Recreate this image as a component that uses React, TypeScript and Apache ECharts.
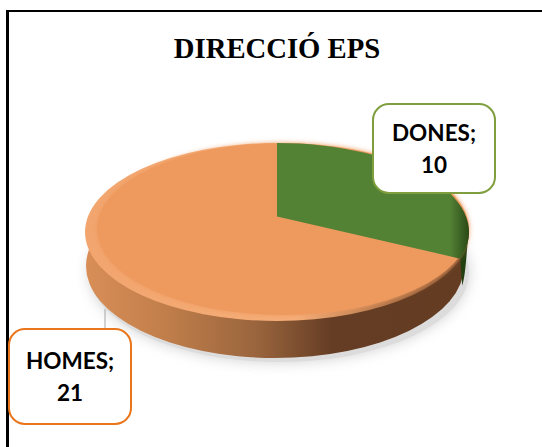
import React, { useEffect, useRef } from "react";
import * as echarts from "echarts";

const titleText = "DIRECCIÓ EPS";
const categories = ["DONES", "HOMES"];
const values = [10, 21];
const sliceColors = ["#548235", "#EE9A5E"];
const borderColors = ["#7F9F3F", "#E9761C"];

const cx = 277, cy = 232, rx = 192, ry = 89;
const apexY = 216.5;

// point of the tilted rim for a pie angle measured clockwise from 12 o'clock
function rim(theta: number): [number, number] {
  const dx = Math.sin(theta) * rx;
  const dy = -Math.cos(theta) * 90;
  const oy = apexY - cy;
  const a = (dx * dx) / (rx * rx) + (dy * dy) / (ry * ry);
  const b = (2 * oy * dy) / (ry * ry);
  const c = (oy * oy) / (ry * ry) - 1;
  const t = (-b + Math.sqrt(b * b - 4 * a * c)) / (2 * a);
  return [cx + dx * t, apexY + dy * t];
}

function wedge(start: number, end: number): string {
  const [x0, y0] = rim(start);
  const [x1, y1] = rim(end);
  const large = end - start > Math.PI ? 1 : 0;
  return `M${cx} ${apexY}L${x0} ${y0}A${rx} ${ry} 0 ${large} 1 ${x1} ${y1}Z`;
}

const ell = (x: number, y: number, a: number, b: number) =>
  `M${x - a} ${y}A${a} ${b} 0 1 0 ${x + a} ${y}A${a} ${b} 0 1 0 ${x - a} ${y}Z`;

function path(d: string, style: any) {
  return { type: "path", shape: { pathData: d }, style };
}

const hGrad = (stops: [number, string][]) => ({
  type: "linear", x: 0, y: 0, x2: 1, y2: 0,
  colorStops: stops.map(([offset, color]) => ({ offset, color })),
});

export default function App() {
  const ref = useRef<HTMLDivElement>(null);
  useEffect(() => {
    document.body.style.margin = "0";
    const chart = echarts.init(ref.current!, null, { renderer: "svg" });
    const total = values.reduce((a, b) => a + b, 0);
    const split = (values[0] / total) * Math.PI * 2;
    const [sx, sy] = rim(split);
    chart.setOption({
      animation: false,
      backgroundColor: "#fff",
      title: {
        text: titleText, left: 272, top: 28, textAlign: "center",
        textStyle: { fontFamily: "Liberation Serif", fontWeight: "bold", fontSize: 28.7, color: "#000" },
      },
      graphic: [
        { type: "line", z: -1, shape: { x1: 7, y1: 11, x2: 542, y2: 11 }, style: { stroke: "#000", lineWidth: 2 } },
        { type: "line", z: -1, shape: { x1: 7.5, y1: 10, x2: 7.5, y2: 447 }, style: { stroke: "#000", lineWidth: 3 } },
      ],
      series: [{
        type: "custom",
        coordinateSystem: "none",
        data: values.map((v) => [v]),
        renderItem: (p: any) => {
          if (p.dataIndex !== 0) return { type: "group", children: [] };
          const children: any[] = [];
          // ground shadow
          children.push(path(ell(279, 272, 190, 90), { fill: "#dcdcdc", shadowBlur: 14, shadowColor: "#d0d0d0" }));
          // side of HOMES
          children.push(path(ell(275, 266, 189, 92), {
            fill: hGrad([[0, "#D98E57"], [0.2, "#C27F4B"], [0.45, "#9A653D"], [0.65, "#653D24"], [1, "#633C22"]]),
          }));
          // green side, right of the split
          children.push(path(`M${sx} ${sy}L${sx + 2} ${sy + 27}C${sx + 6} ${sy + 14} 466 ${sy - 6} 469 ${cy}Z`, { fill: "#22400F" }));
          // light rim of the top face
          children.push(path(ell(cx, cy, rx, ry), {
            fill: hGrad([[0, "#F2A56E"], [0.55, "#F6AE79"], [0.78, "#B5774A"], [1, "#7A4B2B"]]),
          }));
          // flat part of the top face
          children.push(path(ell(283, 229, 186, 86), { fill: sliceColors[1], shadowBlur: 5, shadowColor: sliceColors[1] }));
          // DONES slice
          children.push(path(wedge(0, split), {
            fill: hGrad([[0, sliceColors[0]], [0.9, sliceColors[0]], [1, "#2A4A16"]]),
          }));
          // leader line of HOMES
          children.push({ type: "line", shape: { x1: 105, y1: 309, x2: 105, y2: 329 }, style: { stroke: "#A6A6A6", lineWidth: 1 } });
          // labels
          const boxes = [
            { x: 373, y: 104, w: 122, h: 89 },
            { x: 9, y: 329, w: 122, h: 95 },
          ];
          boxes.forEach((b, i) => {
            children.push({ type: "rect", shape: { x: b.x, y: b.y, width: b.w, height: b.h, r: 16 }, style: { fill: "#fff", stroke: borderColors[i], lineWidth: 2 } });
            children.push({
              type: "text",
              style: {
                x: b.x + b.w / 2, y: b.y + b.h / 2, align: "center", verticalAlign: "middle",
                text: `${categories[i]};\n${values[i]}`,
                fontFamily: "Lato", fontWeight: "bold", fontSize: 22.5, lineHeight: 32, fill: "#000",
              },
            });
          });
          return { type: "group", children };
        },
      }],
    });
    return () => chart.dispose();
  }, []);
  return <div ref={ref} style={{ width: 542, height: 447, position: "fixed", left: 0, top: 0 }} />;
}
